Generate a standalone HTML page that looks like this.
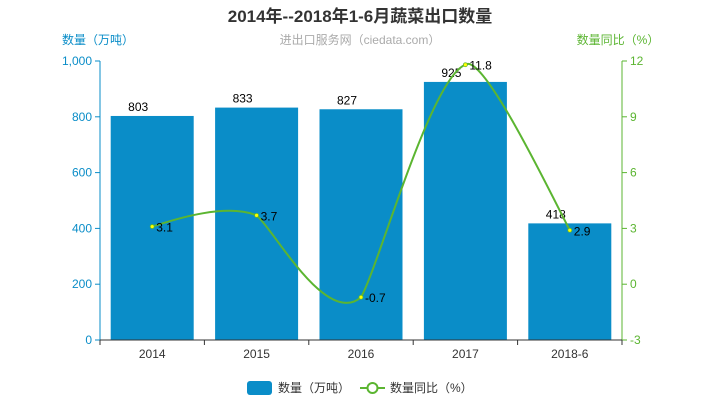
<!DOCTYPE html>
<html><head><meta charset="utf-8"><style>
body{margin:0;background:#fff;width:720px;height:400px;overflow:hidden;font-family:"Liberation Sans","Noto Sans CJK SC",sans-serif}
</style></head><body>
<svg width="720" height="400" xmlns="http://www.w3.org/2000/svg" font-family="Liberation Sans, Noto Sans CJK SC, sans-serif">
<text x="360" y="22" text-anchor="middle" font-size="17" font-weight="bold" fill="#333">2014年--2018年1-6月蔬菜出口数量</text>
<text x="360" y="44" text-anchor="middle" font-size="12" fill="#aaa">进出口服务网（ciedata.com）</text>
<text x="98" y="44" text-anchor="middle" font-size="12" fill="#0a8dc8">数量（万吨）</text>
<text x="618" y="44" text-anchor="middle" font-size="12" fill="#5bb531">数量同比（%）</text>
<g id="g"></g>
<g>
<rect x="247" y="381" width="25" height="14" rx="3" fill="#0a8dc8"/>
<text x="278" y="392" font-size="12" fill="#333">数量（万吨）</text>
<line x1="360" y1="388" x2="385" y2="388" stroke="#5bb531" stroke-width="2"/>
<circle cx="372.5" cy="388" r="5" fill="#fff" stroke="#5bb531" stroke-width="2"/>
<text x="390" y="392" font-size="12" fill="#333">数量同比（%）</text>
</g>
</svg>
<script>
const categories=["2014","2015","2016","2017","2018-6"];
const volumes=[803,833,827,925,418];
const growth=[3.1,3.7,-0.7,11.8,2.9];
const leftTicks=[0,200,400,600,800,1000];
const rightTicks=[-3,0,3,6,9,12];
const L=100,R=622,T=61,B=340;
const NS="http://www.w3.org/2000/svg";
const g=document.getElementById('g');
const bw=(R-L)/categories.length;
const xc=i=>L+bw*(i+0.5);
const yl=v=>B-(v-0)/(1000-0)*(B-T);
const yr=v=>B-(v+3)/(15)*(B-T);
function mk(t,a,p){const e=document.createElementNS(NS,t);for(const k in a)e.setAttribute(k,a[k]);(p||g).appendChild(e);return e;}
// axes
let e;
e=mk('line',{x1:L,y1:T,x2:L,y2:B,stroke:'#0a8dc8'});

e=mk('line',{x1:R,y1:T,x2:R,y2:B,stroke:'#5bb531'});

leftTicks.forEach(v=>{mk('line',{x1:L-5,y1:yl(v),x2:L,y2:yl(v),stroke:'#0a8dc8'});
e=mk('text',{x:L-8,y:yl(v)+4,'text-anchor':'end','font-size':12,fill:'#0a8dc8'});e.textContent=v.toLocaleString('en-US');
});
rightTicks.forEach(v=>{mk('line',{x1:R,y1:yr(v),x2:R+5,y2:yr(v),stroke:'#5bb531'});
e=mk('text',{x:R+8,y:yr(v)+4,'font-size':12,fill:'#5bb531'});e.textContent=v;
});
// bars
volumes.forEach((v,i)=>{e=mk('rect',{x:xc(i)-41.5,y:yl(v),width:83,height:B-yl(v),fill:'#0a8dc8'});

e=mk('text',{x:xc(i)-14,y:yl(v)-5,'text-anchor':'middle','font-size':12,fill:'#000'});e.textContent=v;
});
// x axis
e=mk('line',{x1:L,y1:B,x2:R,y2:B,stroke:'#333'});

for(let i=0;i<=categories.length;i++)mk('line',{x1:L+bw*i,y1:B,x2:L+bw*i,y2:B+5,stroke:'#333'});
categories.forEach((c,i)=>{e=mk('text',{x:xc(i),y:B+18,'text-anchor':'middle','font-size':12,fill:'#333'});e.textContent=c;
});
// smooth line
const pts=growth.map((v,i)=>[xc(i),yr(v)]);
let d='M'+pts[0][0]+','+pts[0][1];const t=0.5;
for(let i=0;i<pts.length-1;i++){const p0=pts[Math.max(i-1,0)],p1=pts[i],p2=pts[i+1],p3=pts[Math.min(i+2,pts.length-1)];
const c1=[p1[0]+(p2[0]-p0[0])/6*t*2*0.5*2/2*1,p1[1]+(p2[1]-p0[1])/6*1.2];
const c2=[p2[0]-(p3[0]-p1[0])/6,p2[1]-(p3[1]-p1[1])/6*1.2];
d+=' C'+c1[0]+','+c1[1]+' '+c2[0]+','+c2[1]+' '+p2[0]+','+p2[1];}
e=mk('path',{d:d,fill:'none',stroke:'#5bb531','stroke-width':2});

pts.forEach((p,i)=>{e=mk('circle',{cx:p[0],cy:p[1],r:2,fill:'#ff0',stroke:'#5bb531','stroke-width':0.8});

e=mk('text',{x:p[0]+4,y:p[1]+5,'font-size':12,fill:'#000'});e.textContent=growth[i];
});
</script>
</body></html>
